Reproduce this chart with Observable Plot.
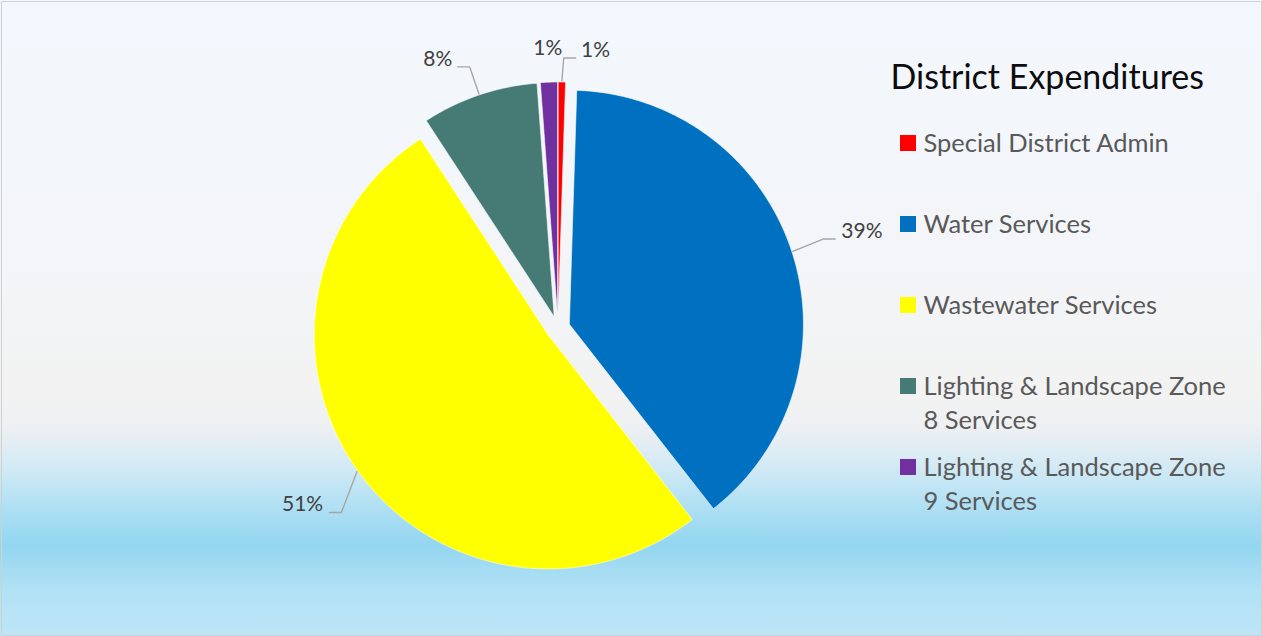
<!DOCTYPE html>
<html>
<head>
<meta charset="utf-8">
<script src="https://cdn.jsdelivr.net/npm/d3@7"></script>
<script src="https://cdn.jsdelivr.net/npm/@observablehq/plot@0.6"></script>
<style>
  html, body { margin: 0; padding: 0; background: #ffffff; }
</style>
</head>
<body>
<div id="chart"></div>
<script>
// ---- data ----
const chartTitle = "District Expenditures";
const categories = [
  "Special District Admin",
  "Water Services",
  "Wastewater Services",
  "Lighting & Landscape Zone 8 Services",
  "Lighting & Landscape Zone 9 Services"
];
const shares = [0.5, 38.95, 51.35, 8.03, 1.17];          // percent of total
const percentLabels = ["1%", "39%", "51%", "8%", "1%"];
const colors = ["#ff0000", "#0070c0", "#ffff00", "#467a74", "#7030a0"];

// ---- layout ----
const W = 1262, H = 636;
const cx = 557.5, cy = 327.5, R = 234, explode = 12;
const labelFont = 21, legendFont = 25.5, titleFont = 34, legendLine = 35;
const labelLayout = [
  {dA: 6.8, r: 280.6, leader: true},
  {dA: 0.4, r: 319, leader: true},
  {dA: 0.9, r: 310.5, leader: true},
  {dA: -5.4, r: 294.8, leader: true},
  {dA: 0, r: 280, leader: false}
];

const total = d3.sum(shares);
let acc = 0;
const slices = shares.map((v, i) => {
  const a0 = acc / total * 360; acc += v; const a1 = acc / total * 360;
  return {i, cat: categories[i], a0, a1, mid: (a0 + a1) / 2};
});
const pt = (deg, r, ox = cx, oy = cy) => {
  const t = deg * Math.PI / 180;
  return [ox + r * Math.sin(t), oy - r * Math.cos(t)];
};

const slicePts = [];
for (const s of slices) {
  const [ox, oy] = pt(s.mid, explode);
  slicePts.push({cat: s.cat, x: ox, y: oy});
  const n = Math.max(2, Math.ceil((s.a1 - s.a0) / 0.5));
  for (let k = 0; k <= n; k++) {
    const a = s.a0 + (s.a1 - s.a0) * k / n;
    const [x, y] = pt(a, R, ox, oy);
    slicePts.push({cat: s.cat, x, y});
  }
  slicePts.push({cat: s.cat, x: ox, y: oy});
}

const labels = slices.map((s, i) => {
  const L = labelLayout[i];
  const [x, y] = pt(s.mid + L.dA, L.r);
  return {x, y, text: percentLabels[i]};
});

const leaders = [];
slices.forEach((s, i) => {
  if (!labelLayout[i].leader) return;
  const [sx, sy] = pt(s.mid, R + explode + 1);
  const lb = labels[i];
  const hw = lb.text.length * 0.66 * labelFont / 2;
  const right = lb.x > sx;
  const ex = right ? lb.x - hw - 6 : lb.x + hw + 6;
  const ey = lb.y + 8;
  const elx = right ? ex - 12 : ex + 12;
  leaders.push({id: i, x: sx, y: sy}, {id: i, x: elx, y: ey}, {id: i, x: ex, y: ey});
});

function wrap(str, maxChars) {
  const words = str.split(" "); const lines = []; let cur = "";
  for (const w of words) {
    const t = cur ? cur + " " + w : w;
    if (t.length > maxChars && cur) { lines.push(cur); cur = w; } else cur = t;
  }
  if (cur) lines.push(cur);
  return lines.join("\n");
}

const legendX = 900, legendBase0 = 151, legendStep = 81;
const legendRows = categories.map((c, i) => ({
  cat: c, label: wrap(c, 25), base: legendBase0 + legendStep * i
}));

const plot = Plot.plot({
  width: W, height: H, margin: 0,
  x: {domain: [0, W], range: [0, W], axis: null},
  y: {domain: [0, H], range: [0, H], axis: null},
  color: {domain: categories, range: colors},
  style: {
    fontFamily: "Lato, 'Open Sans', sans-serif",
    background: "linear-gradient(to bottom, #f3f8fe 0%, #f3f5f8 40%, #f2f2f2 62%, #eef0f2 67%, #e2edf3 70%, #cfe9f4 74%, #b3e1f4 79%, #9fdaf2 83%, #93d6f0 86%, #a2dbf2 89%, #b2e2f5 93%, #bde6f6 100%)"
  },
  marks: [
    Plot.frame({stroke: "#d0d0d0", inset: 1}),
    Plot.line(slicePts, {x: "x", y: "y", z: "cat", fill: "cat", stroke: "#ffffff", strokeWidth: 0.8, strokeOpacity: 0.7, curve: "linear"}),
    Plot.line(leaders, {x: "x", y: "y", z: "id", stroke: "#a6a6a6", strokeWidth: 1.4}),
    Plot.text(labels, {x: "x", y: "y", text: "text", fontSize: labelFont, fill: "#404040", textAnchor: "middle"}),
    Plot.text([chartTitle], {x: 890, y: 88 - 0.71 * titleFont, text: d => d, fontSize: titleFont, fill: "#0d0d0d", textAnchor: "start", lineAnchor: "top"}),
    Plot.rect(legendRows, {x1: legendX, x2: legendX + 16, y1: d => d.base - 16, y2: d => d.base, fill: "cat"}),
    Plot.text(legendRows, {x: legendX + 23, y: d => d.base - 0.71 * legendLine, text: "label", fontSize: legendFont, fill: "#595959", textAnchor: "start", lineAnchor: "top", lineHeight: legendLine / legendFont})
  ]
});
document.getElementById("chart").appendChild(plot);
</script>
</body>
</html>
